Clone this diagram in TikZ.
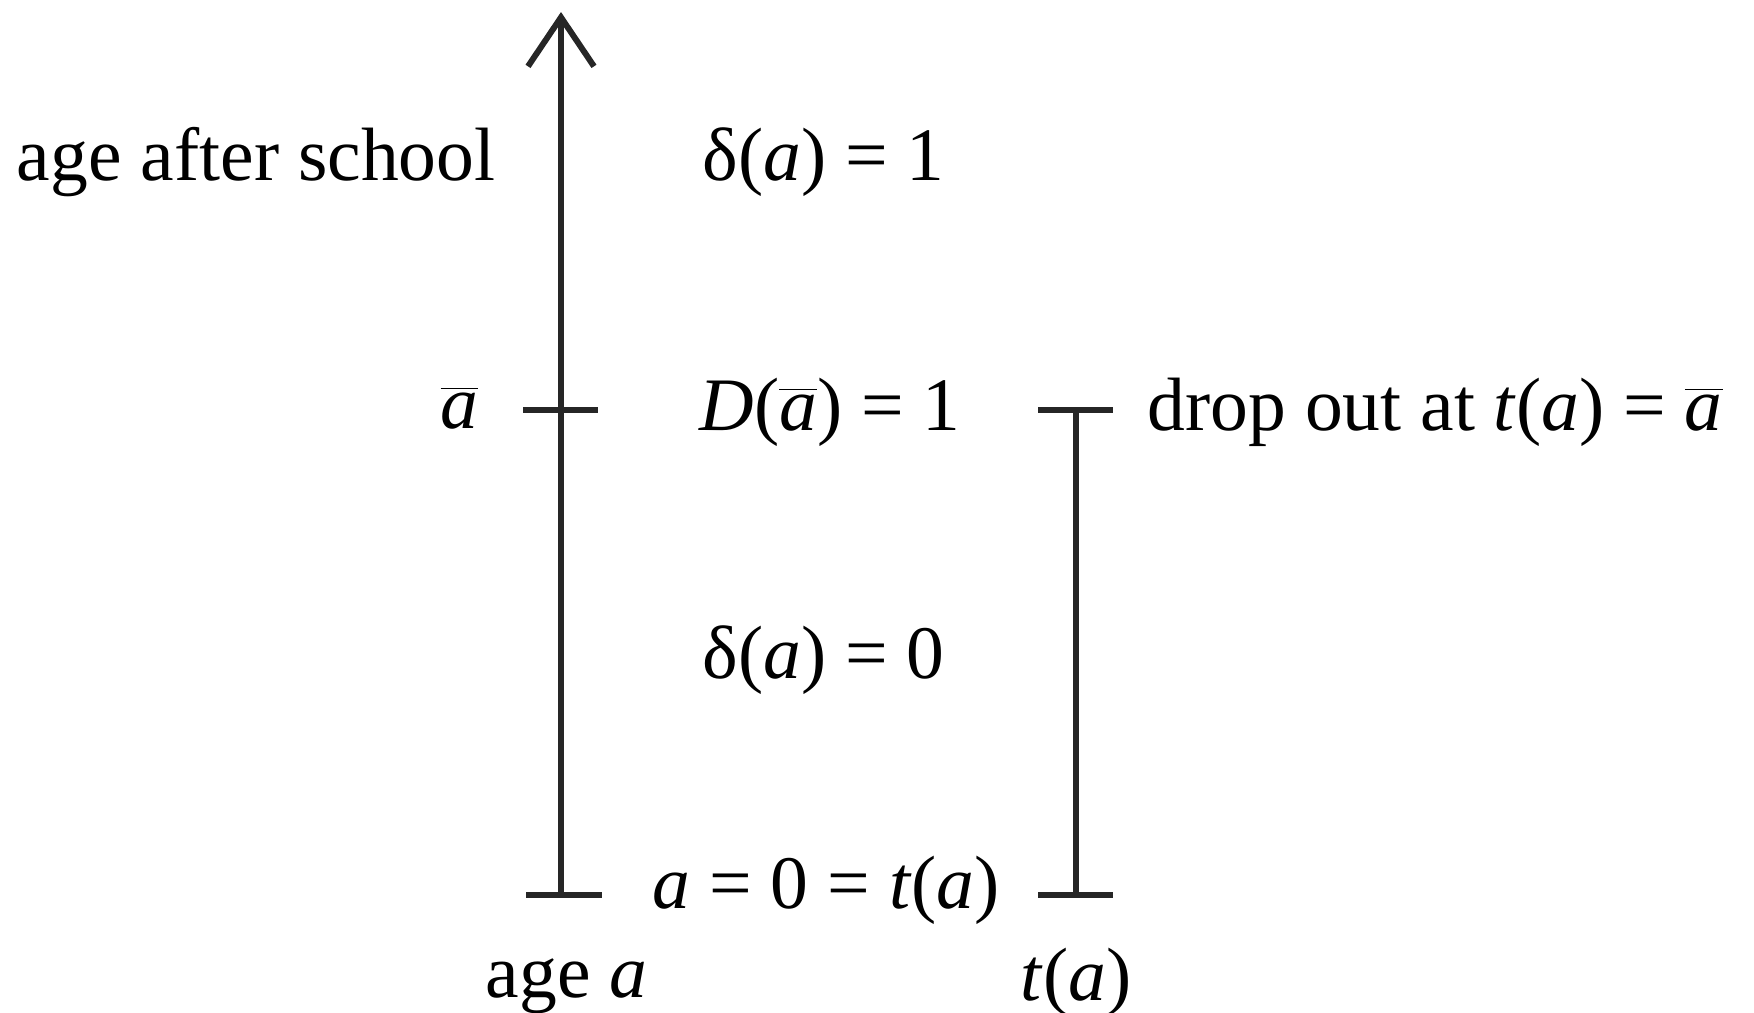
\documentclass[tikz,border=0pt]{standalone}
\usepackage{fontspec}
\setmainfont{Liberation Serif}
\usetikzlibrary{arrows.meta,positioning}
\newcommand{\abar}{\(\overline{\mbox{\textit{a}}}\)}

\begin{document}
\begin{tikzpicture}[
		lbl/.style={inner sep=0pt,font=\fontsize{21.5}{26}\selectfont},
		axis/.style={line width=1.7pt,draw=black!85},
		tick/.style={axis}
		]
		\useasboundingbox (0,0) rectangle (17.54,-10.12);
		% the two bars
		\coordinate (a0) at (5.61,-8.95);
		\coordinate (abar) at (5.61,-4.10);
		\coordinate (atop) at (5.61,-0.12);
		\coordinate (t0) at (10.76,-8.95);
		\coordinate (tbar) at (10.76,-4.10);
		\draw[axis,-{Straight Barb[length=4.9mm,width=6.6mm,line width=1.7pt]}] (a0)--(atop);
		\draw[axis] (t0)--(tbar);
		\draw[tick] ([xshift=-3.5mm]a0)--([xshift=4.1mm]a0);
		\draw[tick] ([xshift=-3.8mm]abar)--([xshift=3.7mm]abar);
		\draw[tick] ([xshift=-3.8mm]t0)--([xshift=3.7mm]t0);
		\draw[tick] ([xshift=-3.8mm]tbar)--([xshift=3.7mm]tbar);
		% labels
		\node[lbl,anchor=east] (after) at (4.96,-1.62) {age after school};
		\node[lbl,anchor=west] (d1) at (7.02,-1.62) {δ(\textit{a}) = 1};
		\node[lbl,anchor=east] (abarl) at (4.79,-4.08) {\abar};
		\node[lbl,anchor=west] (Dbar) at (6.99,-4.12) {\textit{D}(\abar) = 1};
		\node[lbl,anchor=west] (drop) at (11.47,-4.12) {drop out at \textit{t}(\textit{a}) = \abar};
		\node[lbl,anchor=west] (d0) at (7.02,-6.60) {δ(\textit{a}) = 0};
		\node[lbl,anchor=west] (zero) at (6.52,-8.90) {\textit{a} = 0 = \textit{t}(\textit{a})};
		\node[lbl,anchor=west] (agea) at (4.85,-9.86) {age \textit{a}};
		\node[lbl,anchor=west] (ta) at (10.20,-9.82) {\textit{t}(\textit{a})};
	\end{tikzpicture}
\end{document}
